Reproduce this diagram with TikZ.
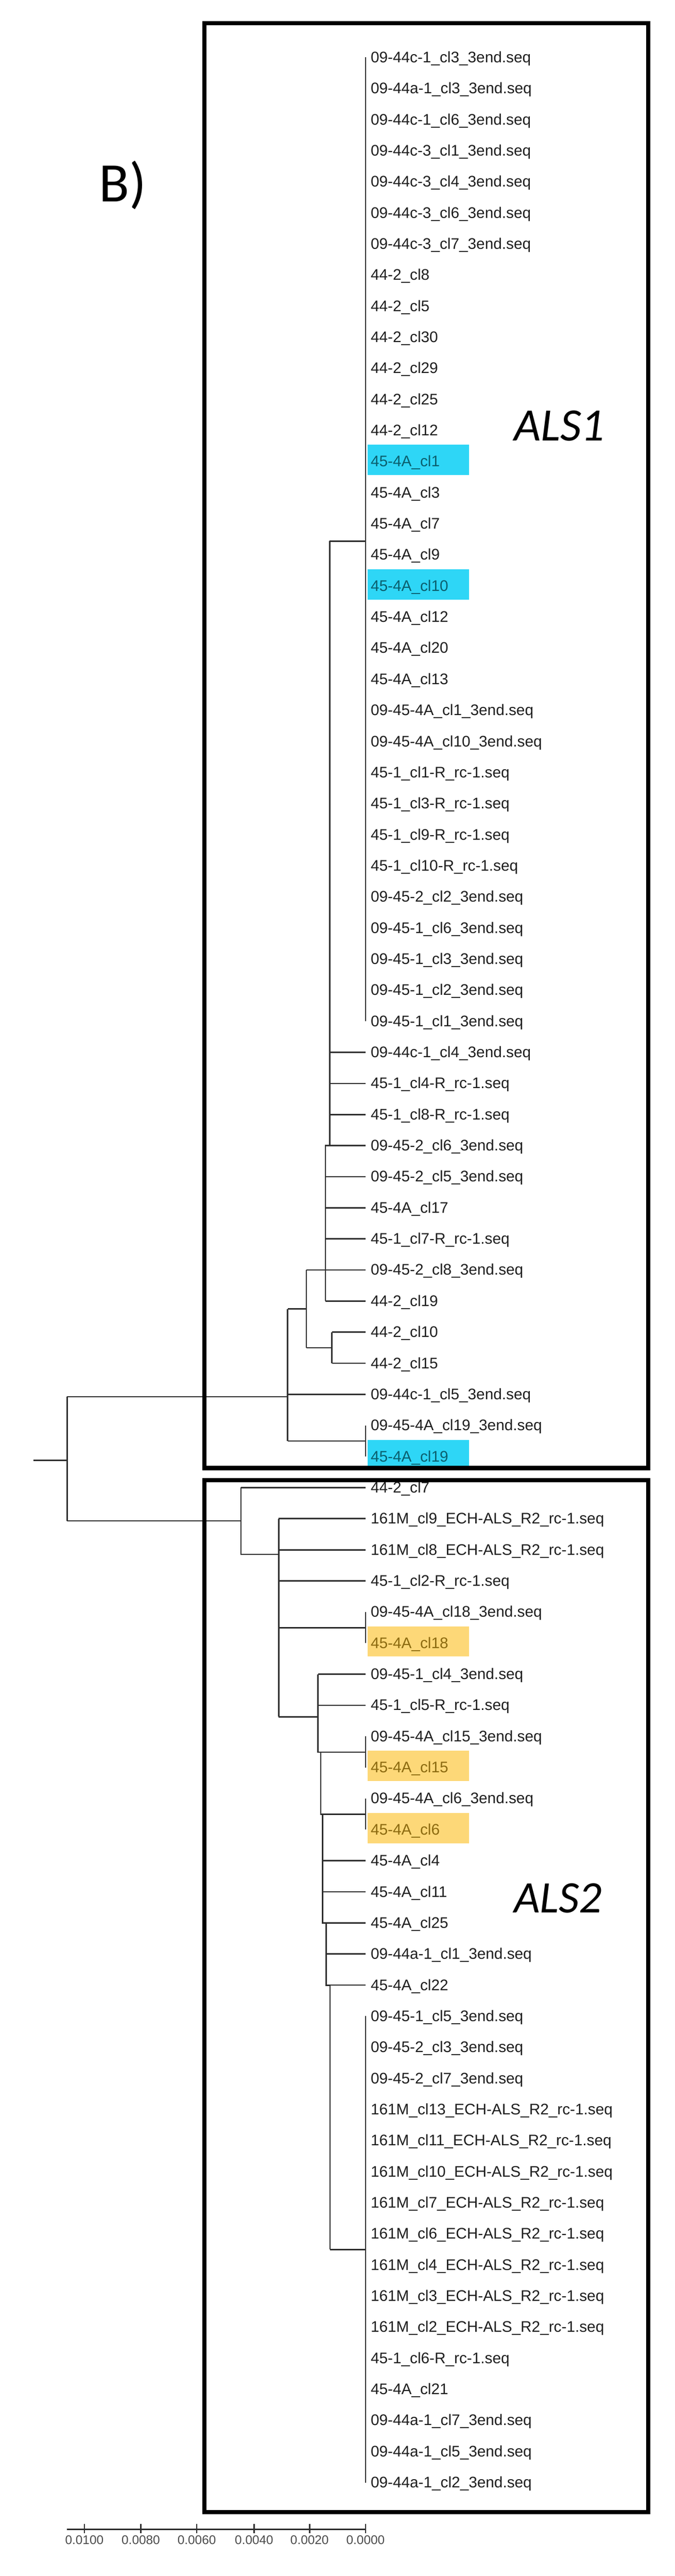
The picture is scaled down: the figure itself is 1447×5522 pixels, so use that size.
\documentclass[tikz,border=0pt]{standalone}
\usepackage{fontspec}
\setmainfont{Liberation Sans}
\newfontfamily\carl{Carlito}
\begin{document}
\begin{tikzpicture}[x=1bp,y=-1bp,
  br/.style={draw=black!82,line width=3bp},
  box/.style={draw=black,line width=9bp},
  leaf/.style={anchor=base west,inner sep=0pt,font=\fontsize{33}{36}\selectfont},
  tick/.style={font=\fontsize{27}{30}\selectfont,text=black!70}]
\useasboundingbox (0,0) rectangle (1447,5522);
\fill[white] (0,0) rectangle (1447,5522);
\definecolor{hb}{HTML}{2ED6F6}\definecolor{hy}{HTML}{FDD878}
\definecolor{tb}{HTML}{0B5F6E}\definecolor{ty}{HTML}{8C6A10}\definecolor{tk}{HTML}{1E1E1E}
\foreach \i in {14,18,46} \fill[hb] (789,{123+(\i-1)*66.65-36}) rectangle (1006,{123+(\i-1)*66.65+29});
\foreach \i in {52,56,58} \fill[hy] (789,{123+(\i-1)*66.65-36}) rectangle (1006,{123+(\i-1)*66.65+29});
% leaves
\foreach \t [count=\i] in {
09-44c-1\_cl3\_3end.seq,09-44a-1\_cl3\_3end.seq,09-44c-1\_cl6\_3end.seq,09-44c-3\_cl1\_3end.seq,
09-44c-3\_cl4\_3end.seq,09-44c-3\_cl6\_3end.seq,09-44c-3\_cl7\_3end.seq,44-2\_cl8,44-2\_cl5,44-2\_cl30,
44-2\_cl29,44-2\_cl25,44-2\_cl12,45-4A\_cl1,45-4A\_cl3,45-4A\_cl7,45-4A\_cl9,45-4A\_cl10,45-4A\_cl12,
45-4A\_cl20,45-4A\_cl13,09-45-4A\_cl1\_3end.seq,09-45-4A\_cl10\_3end.seq,45-1\_cl1-R\_rc-1.seq,
45-1\_cl3-R\_rc-1.seq,45-1\_cl9-R\_rc-1.seq,45-1\_cl10-R\_rc-1.seq,09-45-2\_cl2\_3end.seq,
09-45-1\_cl6\_3end.seq,09-45-1\_cl3\_3end.seq,09-45-1\_cl2\_3end.seq,09-45-1\_cl1\_3end.seq,
09-44c-1\_cl4\_3end.seq,45-1\_cl4-R\_rc-1.seq,45-1\_cl8-R\_rc-1.seq,09-45-2\_cl6\_3end.seq,
09-45-2\_cl5\_3end.seq,45-4A\_cl17,45-1\_cl7-R\_rc-1.seq,09-45-2\_cl8\_3end.seq,44-2\_cl19,
44-2\_cl10,44-2\_cl15,09-44c-1\_cl5\_3end.seq,09-45-4A\_cl19\_3end.seq,45-4A\_cl19,
44-2\_cl7,161M\_cl9\_ECH-ALS\_R2\_rc-1.seq,161M\_cl8\_ECH-ALS\_R2\_rc-1.seq,45-1\_cl2-R\_rc-1.seq,
09-45-4A\_cl18\_3end.seq,45-4A\_cl18,09-45-1\_cl4\_3end.seq,45-1\_cl5-R\_rc-1.seq,
09-45-4A\_cl15\_3end.seq,45-4A\_cl15,09-45-4A\_cl6\_3end.seq,45-4A\_cl6,45-4A\_cl4,45-4A\_cl11,
45-4A\_cl25,09-44a-1\_cl1\_3end.seq,45-4A\_cl22,09-45-1\_cl5\_3end.seq,09-45-2\_cl3\_3end.seq,
09-45-2\_cl7\_3end.seq,161M\_cl13\_ECH-ALS\_R2\_rc-1.seq,161M\_cl11\_ECH-ALS\_R2\_rc-1.seq,
161M\_cl10\_ECH-ALS\_R2\_rc-1.seq,161M\_cl7\_ECH-ALS\_R2\_rc-1.seq,161M\_cl6\_ECH-ALS\_R2\_rc-1.seq,
161M\_cl4\_ECH-ALS\_R2\_rc-1.seq,161M\_cl3\_ECH-ALS\_R2\_rc-1.seq,161M\_cl2\_ECH-ALS\_R2\_rc-1.seq,
45-1\_cl6-R\_rc-1.seq,45-4A\_cl21,09-44a-1\_cl7\_3end.seq,09-44a-1\_cl5\_3end.seq,09-44a-1\_cl2\_3end.seq}
{
  \pgfmathtruncatemacro\hk{(\i==14||\i==18||\i==46)?1:((\i==52||\i==56||\i==58)?2:0)}
  \ifcase\hk \def\tc{tk}\or \def\tc{tb}\or \def\tc{ty}\fi
  \coordinate (t\i) at (784,{123+(\i-1)*66.65});
  \node[leaf,text=\tc] (l\i) at (795,{123+(\i-1)*66.65+11}) {\t};
}
% ---------- ALS1 ----------
\draw[br] (t1) -- (t32);
\coordinate (a1) at (707,1160);
\draw[br] (a1) -- (a1 -| t1);
\draw[br] (a1) -- (707,2455) -- (698,2455) -- (698 , 2789);
\foreach \i in {33,34,35} \draw[br] (707,0 |- t\i) -- (t\i);
\foreach \i in {36,37,38,39,41} \draw[br] (698,0 |- t\i) -- (t\i);
\coordinate (a2) at (657,2806);
\draw[br] (657,0 |- t40) -- (t40);
\draw[br] (657,0 |- t40) -- (657,2889);
\coordinate (a3) at (712,2889);
\draw[br] (657,2889) -- (a3);
\draw[br] (a3 |- t42) -- (a3 |- t43);
\draw[br] (a3 |- t42) -- (t42); \draw[br] (a3 |- t43) -- (t43);
\coordinate (als1) at (617,2994);
\draw[br] (617,2806) -- (a2);
\draw[br] (617,2806) -- (617,3089);
\draw[br] (617,0 |- t44) -- (t44);
\draw[br] (t45) -- (t46);
\draw[br] (617,3089) -- (784,3089);
% ---------- ALS2 ----------
\coordinate (als2) at (517,3260);
\draw[br] (517,0 |- t47) -- (t47);
\draw[br] (517,0 |- t47) -- (517,3332) -- (598,3332);
\draw[br] (598,0 |- t48) -- (598,3680);
\foreach \i in {48,49,50} \draw[br] (598,0 |- t\i) -- (t\i);
\draw[br] (t51) -- (t52);
\draw[br] (598,3489) -- (784,3489);
\draw[br] (598,3680) -- (682,3680);
\draw[br] (682,0 |- t53) -- (682,3756) -- (688,3756) -- (688,3889) -- (692,3889) -- (692,4122) -- (700,4122) -- (700,4256) -- (708,4256) -- (708,4822);
\foreach \i in {53,54} \draw[br] (682,0 |- t\i) -- (t\i);
\draw[br] (t55) -- (t56); \draw[br] (688,3756) -- (784,3756);
\draw[br] (t57) -- (t58); \draw[br] (692,3889) -- (784,3889);
\foreach \i in {59,60,61} \draw[br] (692,0 |- t\i) -- (t\i);
\foreach \i in {62,63} \draw[br] (700,0 |- t\i) -- (t\i);
\draw[br] (t64) -- (t79);
\draw[br] (708,4822) -- (784,4822);
% ---------- root ----------
\coordinate (root) at (144,3130);
\draw[br] (72,3130) -- (root);
\draw[br] (144,2994) -- (144,3260);
\draw[br] (144,2994) -- (als1);
\draw[br] (144,3260) -- (als2);
% boxes
\draw[box] (438,50) rectangle (1390,3147);
\draw[box] (438,3173) rectangle (1390,5385);
% labels
\node[anchor=base west,inner sep=0pt,font=\carl\itshape\fontsize{100}{104}\selectfont] (lab1) at (1102,945) {ALS1};
\node[anchor=base west,inner sep=0pt,font=\carl\itshape\fontsize{97}{100}\selectfont] (lab2) at (1102,4100) {ALS2};
\node[anchor=base west,inner sep=0pt,font=\carl\fontsize{120}{124}\selectfont] (B) at (212,432) {B)};
% scale bar
\draw[br] (144,5422) -- (784,5422);
\foreach \x/\l in {181/0.0100,302/0.0080,422/0.0060,545/0.0040,664/0.0020,784/0.0000}{
  \draw[br] (\x,5410) -- (\x,5430);
  \node[tick,anchor=north] at (\x,5432) {\l};
}
\end{tikzpicture}
\end{document}
